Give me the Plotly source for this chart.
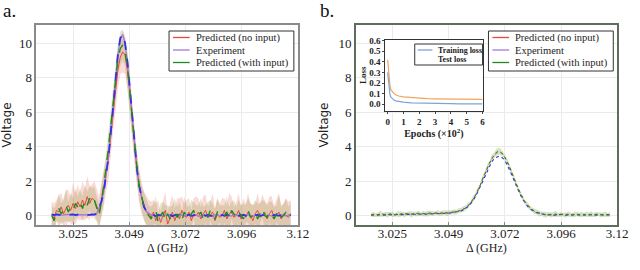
import numpy as np
import plotly.graph_objects as go

# ---------------- data ----------------
freq = np.round(np.linspace(3.016, 3.117, 102), 4)  # measurement grid (GHz)

tick_vals = [3.025, 3.04875, 3.0725, 3.09625, 3.12]
tick_text = ["3.025", "3.049", "3.072", "3.096", "3.12"]

# Panel a
a_exp = [0.05, 0.03, 0.06, 0.04, 0.05, 0.02, 0.06, 0.04, 0.05, 0.07,
         0.03, 0.05, 0.04, 0.06, 0.03, 0.05, 0.04, 0.06, 0.05, 0.10,
         0.4, 0.8, 1.4, 2.3, 3.4, 4.9, 6.5, 8.1, 9.4, 10.3,
         10.5, 10.0, 8.9, 7.4, 5.7, 4.0, 2.7, 1.7, 1.0, 0.5,
         0.25, 0.12,
         0.05, 0.02, -0.03, 0.04, 0.01, -0.02, 0.03, 0.0, 0.05, -0.04,
         0.02, 0.04, -0.01, 0.03, -0.03, 0.01, 0.05, -0.02, 0.0, 0.03,
         -0.04, 0.02, 0.04, -0.01, 0.03, 0.0, -0.03, 0.05, 0.01, -0.02,
         0.03, -0.01, 0.04, 0.0, -0.03, 0.02, 0.05, -0.02, 0.01, 0.03,
         -0.01, 0.04, 0.0, -0.04, 0.02, 0.03, -0.02, 0.01, 0.05, 0.0,
         0.02, -0.03, 0.04, 0.01, -0.01, 0.03, 0.0, -0.02, 0.04, 0.01]

a_red = [0.1, -0.2, 0.3, 0.2, 0.5, 0.1, 0.4, 0.6, 0.3, 0.7,
         0.4, 0.8, 0.5, 0.9, 0.6, 1.1, 0.7, 1.0, 0.9, 0.6,
         0.2, 0.9, 1.6, 2.4, 3.3, 4.6, 6.0, 7.3, 8.5, 9.2,
         9.5, 9.3, 8.4, 7.1, 5.6, 4.0, 2.7, 1.7, 1.0, 0.6,
         0.2, 0.1,
         -0.1, 0.2, -0.3, 0.1, -0.4, 0.0, 0.3, -0.5, -0.1, 0.2,
         -0.3, 0.1, -0.2, 0.3, 0.0, -0.1, 0.2, -0.3, 0.1, 0.0,
         0.2, -0.2, 0.1, 0.3, -0.1, 0.0, 0.2, -0.3, 0.1, -0.1,
         0.0, 0.3, -0.2, 0.1, 0.2, -0.1, 0.0, 0.3, -0.2, 0.1,
         -0.1, 0.2, 0.0, -0.3, 0.1, 0.3, -0.1, 0.0, 0.2, -0.2,
         0.1, 0.3, -0.1, 0.0, 0.2, -0.2, 0.1, 0.0, -0.1, 0.1]

a_green = [0.0, -0.3, 0.2, 0.4, 0.1, 0.3, 0.6, 0.2, 0.5, 0.3,
           0.7, 0.5, 0.8, 0.4, 0.9, 0.6, 1.0, 0.7, 0.9, 0.4,
           0.0, 0.8, 1.7, 2.8, 4.0, 5.3, 6.7, 8.0, 9.1, 9.7,
           9.9, 9.5, 8.6, 7.2, 5.6, 4.1, 2.8, 1.7, 1.0, 0.5,
           0.2, 0.0,
           -0.2, 0.1, 0.3, -0.4, 0.0, 0.2, -0.3, 0.1, -0.2, 0.0,
           0.2, -0.1, 0.1, -0.3, 0.2, 0.0, -0.2, 0.1, 0.3, -0.1,
           0.0, 0.2, -0.2, 0.1, -0.1, 0.3, 0.0, -0.2, 0.2, 0.1,
           -0.1, 0.0, 0.2, -0.2, 0.3, 0.1, -0.1, 0.2, 0.0, -0.2,
           0.1, 0.3, -0.1, 0.0, 0.2, -0.2, 0.1, 0.4, 0.0, -0.1,
           0.2, 0.0, -0.2, 0.1, 0.3, -0.1, 0.0, 0.2, -0.1, 0.1]

a_red_sd = [0.7, 0.9, 0.6, 1.0, 0.8, 0.7, 1.1, 0.9, 0.8, 1.2,
            0.9, 1.0, 0.8, 1.1, 0.9, 1.2, 1.0, 0.8, 1.1, 0.9,
            0.9, 1.0, 1.1, 1.0, 1.2, 1.1, 1.0, 1.2, 1.1, 1.0,
            1.2, 1.1, 1.0, 1.2, 1.1, 1.0, 0.9, 1.0, 0.9, 0.8,
            0.9, 0.8,
            0.9, 0.7, 1.0, 0.8, 0.6, 0.9, 1.1, 0.7, 0.8, 1.0,
            0.7, 0.9, 1.2, 0.8, 0.7, 1.0, 0.8, 0.6, 0.9, 1.1,
            0.8, 0.7, 1.0, 0.9, 0.6, 0.8, 1.1, 0.7, 0.9, 0.8,
            1.0, 0.7, 0.8, 1.2, 0.9, 0.6, 0.8, 1.0, 0.7, 0.9,
            0.8, 1.1, 0.7, 0.9, 0.6, 1.0, 0.8, 1.2, 0.7, 0.9,
            1.0, 0.8, 0.7, 0.9, 1.1, 0.8, 0.6, 1.0, 0.9, 0.8]

a_green_sd = [0.6, 0.7, 0.5, 0.8, 0.6, 0.7, 0.9, 0.6, 0.8, 0.7,
              0.9, 0.6, 0.8, 0.7, 0.9, 0.8, 0.7, 0.9, 0.8, 0.7,
              0.7, 0.8, 0.9, 0.8, 0.9, 1.0, 0.9, 0.8, 0.9, 1.0,
              0.9, 0.8, 0.9, 1.0, 0.9, 0.8, 0.9, 0.8, 0.7, 0.8,
              0.7, 0.6,
              0.7, 0.6, 0.8, 0.5, 0.7, 0.6, 0.9, 0.5, 0.7, 0.6,
              0.8, 0.6, 0.7, 0.5, 0.9, 0.6, 0.7, 0.8, 0.5, 0.7,
              0.6, 0.8, 0.7, 0.5, 0.9, 0.6, 0.7, 0.6, 0.8, 0.5,
              0.7, 0.6, 0.9, 0.7, 0.5, 0.8, 0.6, 0.7, 0.6, 0.9,
              0.5, 0.7, 0.8, 0.6, 0.7, 0.9, 0.6, 0.5, 0.8, 0.7,
              0.6, 0.8, 0.7, 0.5, 0.9, 0.6, 0.7, 0.8, 0.6, 0.7]

# Panel b
b_exp = [0.02, 0.04, 0.01, 0.03, 0.05, 0.02, 0.04, 0.03, 0.06, 0.03,
         0.05, 0.04, 0.07, 0.05, 0.06, 0.08, 0.05, 0.07, 0.09, 0.06,
         0.08, 0.07, 0.10, 0.08, 0.09, 0.11, 0.08, 0.10, 0.12, 0.10,
         0.13, 0.12, 0.15, 0.14, 0.17, 0.19,
         0.19, 0.22, 0.27, 0.33, 0.42, 0.52, 0.68, 0.86, 1.08, 1.35,
         1.64, 1.96, 2.28, 2.60, 2.88, 3.12, 3.30, 3.40, 3.45, 3.40,
         3.27, 3.06, 2.80, 2.50, 2.17, 1.83, 1.51, 1.22, 0.96, 0.74,
         0.56, 0.41, 0.30, 0.22, 0.16, 0.12, 0.09, 0.07,
         0.05, 0.03, 0.06, 0.02, 0.04, 0.05, 0.03, 0.06, 0.02, 0.04,
         0.05, 0.03, 0.04, 0.06, 0.02, 0.05, 0.03, 0.04, 0.06, 0.03,
         0.05, 0.02, 0.04, 0.05, 0.03, 0.04, 0.02, 0.05]

b_red = [0.05, 0.00, 0.08, 0.03, 0.06, 0.10, 0.02, 0.07, 0.04, 0.09,
         0.05, 0.11, 0.06, 0.03, 0.09, 0.12, 0.07, 0.10, 0.05, 0.13,
         0.09, 0.06, 0.12, 0.10, 0.14, 0.08, 0.11, 0.15, 0.09, 0.13,
         0.16, 0.12, 0.18, 0.15, 0.20, 0.17,
         0.22, 0.25, 0.30, 0.36, 0.45, 0.57, 0.72, 0.92, 1.15, 1.42,
         1.73, 2.07, 2.41, 2.74, 3.03, 3.29, 3.50, 3.62, 3.68, 3.63,
         3.48, 3.26, 2.98, 2.66, 2.31, 1.95, 1.60, 1.29, 1.02, 0.79,
         0.60, 0.45, 0.33, 0.25, 0.18, 0.13, 0.10, 0.07,
         0.06, 0.02, 0.08, 0.04, 0.01, 0.07, 0.05, 0.09, 0.03, 0.06,
         0.02, 0.08, 0.05, 0.03, 0.07, 0.04, 0.09, 0.02, 0.06, 0.05,
         0.03, 0.08, 0.04, 0.06, 0.02, 0.07, 0.05, 0.03]

b_green = [0.03, 0.07, 0.02, 0.06, 0.09, 0.04, 0.08, 0.05, 0.10, 0.06,
           0.03, 0.09, 0.07, 0.11, 0.05, 0.08, 0.12, 0.06, 0.10, 0.08,
           0.13, 0.07, 0.11, 0.09, 0.12, 0.15, 0.10, 0.13, 0.16, 0.11,
           0.14, 0.18, 0.13, 0.17, 0.19, 0.21,
           0.20, 0.27, 0.31, 0.38, 0.44, 0.59, 0.70, 0.94, 1.13, 1.45,
           1.71, 2.10, 2.39, 2.78, 3.01, 3.33, 3.49, 3.68, 3.74, 3.66,
           3.50, 3.24, 3.00, 2.63, 2.33, 1.93, 1.62, 1.27, 1.04, 0.77,
           0.62, 0.44, 0.35, 0.24, 0.19, 0.12, 0.11, 0.06,
           0.04, 0.08, 0.03, 0.06, 0.09, 0.02, 0.07, 0.05, 0.03, 0.08,
           0.06, 0.01, 0.07, 0.09, 0.04, 0.06, 0.02, 0.08, 0.05, 0.07,
           0.03, 0.06, 0.09, 0.04, 0.05, 0.08, 0.03, 0.06]

b_sd = [0.12, 0.15, 0.10, 0.14, 0.18, 0.11, 0.13, 0.16, 0.12, 0.15,
        0.10, 0.14, 0.17, 0.12, 0.15, 0.11, 0.13, 0.18, 0.12, 0.14,
        0.16, 0.11, 0.15, 0.13, 0.17, 0.12, 0.14, 0.10, 0.16, 0.13,
        0.15, 0.12, 0.18, 0.14, 0.11, 0.16, 0.13, 0.15, 0.12, 0.17,
        0.14, 0.16, 0.13, 0.18, 0.15, 0.17, 0.14, 0.19, 0.16, 0.18,
        0.15, 0.20, 0.17, 0.19, 0.21, 0.18, 0.16, 0.19, 0.15, 0.17,
        0.14, 0.18, 0.15, 0.13, 0.17, 0.12, 0.16, 0.14, 0.11, 0.15,
        0.13, 0.17, 0.12, 0.14, 0.16, 0.11, 0.15, 0.13, 0.18, 0.12,
        0.14, 0.10, 0.16, 0.13, 0.15, 0.11, 0.17, 0.12, 0.14, 0.16,
        0.11, 0.15, 0.13, 0.18, 0.12, 0.14, 0.10, 0.16, 0.13, 0.15,
        0.12, 0.14]

# Inset (loss curves)
epochs = [0, 0.05, 0.1, 0.15, 0.2, 0.3, 0.4, 0.5, 0.7, 1.0,
          1.5, 2.0, 2.5, 3.0, 3.5, 4.0, 4.5, 5.0, 5.5, 6.0]
train_loss = [0.30, 0.20, 0.13, 0.09, 0.07, 0.05, 0.04, 0.033, 0.025, 0.02,
              0.014, 0.011, 0.009, 0.008, 0.007, 0.006, 0.005, 0.005, 0.004, 0.004]
test_loss = [0.42, 0.30, 0.22, 0.17, 0.14, 0.115, 0.10, 0.09, 0.078, 0.07,
             0.062, 0.056, 0.053, 0.051, 0.05, 0.049, 0.048, 0.048, 0.047, 0.047]

legend_names = ["Predicted (no input)", "Experiment", "Predicted (with input)"]
inset_legend_names = ["Training loss", "Test loss"]
x_title = "Δ (GHz)"
y_title = "Voltage"

# ---------------- styles ----------------
SERIF = "Liberation Serif, Times New Roman, serif"
SANS = "DejaVu Sans, sans-serif"
C_RED = "#e8483c"
C_PURPLE = "#a57ad8"
C_BLUE = "#2f2ff0"
C_GREEN = "#1f8a1f"
C_TRAIN = "#7aa6d6"
C_TEST = "#f5a25a"
LEG_COLORS = [C_RED, C_PURPLE, C_GREEN]

W, H = 640, 270
ML, MR, MT, MB = 0, 0, 25, 45
PH = H - MT - MB


def px(x):
    return x / W


def py(y):
    return (H - MB - y) / PH


fig = go.Figure()


def band(xs, mid, sd, color, xa, ya):
    mid = np.array(mid, dtype=float)
    sd = np.array(sd, dtype=float)
    xx = np.concatenate([xs, xs[::-1]])
    yy = np.concatenate([mid + sd, (mid - sd)[::-1]])
    fig.add_trace(go.Scatter(x=xx, y=yy, fill="toself", fillcolor=color,
                             line=dict(width=0), mode="lines", hoverinfo="skip",
                             showlegend=False, xaxis=xa, yaxis=ya))


# Panel a
band(freq, a_red, a_red_sd, "rgba(238,110,100,0.26)", "x", "y")
band(freq, a_green, a_green_sd, "rgba(130,150,50,0.24)", "x", "y")
fig.add_trace(go.Scatter(x=freq, y=a_red, mode="lines", line=dict(color=C_RED, width=1),
                         showlegend=False, xaxis="x", yaxis="y"))
fig.add_trace(go.Scatter(x=freq, y=a_exp, mode="lines", line=dict(color=C_PURPLE, width=1.3),
                         showlegend=False, xaxis="x", yaxis="y"))
fig.add_trace(go.Scatter(x=freq, y=a_exp, mode="lines",
                         line=dict(color=C_BLUE, width=1.8, dash="dash"),
                         showlegend=False, xaxis="x", yaxis="y"))
fig.add_trace(go.Scatter(x=freq, y=a_green, mode="lines",
                         line=dict(color=C_GREEN, width=1.4, dash="dash"),
                         showlegend=False, xaxis="x", yaxis="y"))

# Panel b
band(freq, b_green, b_sd, "rgba(110,170,60,0.30)", "x2", "y2")
fig.add_trace(go.Scatter(x=freq, y=b_exp, mode="lines", line=dict(color=C_BLUE, width=1.1, dash="dot"),
                         showlegend=False, xaxis="x2", yaxis="y2"))
fig.add_trace(go.Scatter(x=freq, y=b_red, mode="lines", line=dict(color=C_RED, width=1, dash="dot"),
                         showlegend=False, xaxis="x2", yaxis="y2"))
fig.add_trace(go.Scatter(x=freq, y=b_green, mode="lines", line=dict(color=C_GREEN, width=1, dash="dot"),
                         showlegend=False, xaxis="x2", yaxis="y2"))

# Inset
fig.add_trace(go.Scatter(x=epochs, y=test_loss, mode="lines", line=dict(color=C_TEST, width=1.2),
                         showlegend=False, xaxis="x3", yaxis="y3"))
fig.add_trace(go.Scatter(x=epochs, y=train_loss, mode="lines", line=dict(color=C_TRAIN, width=1.2),
                         showlegend=False, xaxis="x3", yaxis="y3"))

tickfont = dict(family=SERIF, size=13, color="#222")
main_x = dict(range=[3.0095, 3.12], tickvals=tick_vals, ticktext=tick_text,
              tickfont=tickfont, showgrid=True, gridcolor="#ebebeb", gridwidth=1,
              ticks="inside", ticklen=3, tickcolor="#888", zeroline=False, showline=True, mirror=True,
              ticklabelstandoff=-4)
main_y = dict(range=[-0.55, 11.06], tickvals=[0, 2, 4, 6, 8, 10], tickfont=tickfont,
              showgrid=True, gridcolor="#ebebeb", gridwidth=1, ticks="", zeroline=False,
              showline=True, mirror=True,
              title=dict(text=y_title, font=dict(family=SANS, size=12, color="#222"), standoff=7))

inset_font = dict(family=SERIF, size=9, color="#222", weight="bold")

fig.update_layout(
    width=W, height=H, margin=dict(l=ML, r=MR, t=MT, b=MB),
    paper_bgcolor="white", plot_bgcolor="white", showlegend=False,
    xaxis=dict(main_x, domain=[px(37), px(303)], anchor="y", linecolor="#8a8a8a", linewidth=1.5),
    yaxis=dict(main_y, domain=[0, 1], anchor="x", linecolor="#8a8a8a", linewidth=1.5),
    xaxis2=dict(main_x, domain=[px(362), px(628)], anchor="y2", linecolor="#5d6e5d", linewidth=1.5),
    yaxis2=dict(main_y, domain=[0, 1], anchor="x2", linecolor="#5d6e5d", linewidth=1.5),
    xaxis3=dict(domain=[px(392), px(491)], anchor="y3", range=[-0.15, 6.0],
                tickvals=[0, 1, 2, 3, 4, 5, 6], showgrid=False, zeroline=False,
                showline=True, mirror=True, linecolor="#333", linewidth=1, ticks="outside", ticklen=2,
                tickfont=inset_font,
                title=dict(text="Epochs (×10<sup>2</sup>)", font=dict(inset_font, size=10), standoff=1)),
    yaxis3=dict(domain=[py(111), py(39.5)], anchor="x3", range=[-0.063, 0.61],
                tickvals=[0, 0.1, 0.2, 0.3, 0.4, 0.5, 0.6], tickformat=".1f", showgrid=False,
                zeroline=False, showline=True, mirror=True, linecolor="#333", linewidth=1,
                ticks="outside", ticklen=2, tickfont=inset_font,
                title=dict(text="Loss", font=inset_font, standoff=1)),
)

shapes = []
annotations = []


def add_legend(x0, y0, x1, y1, names, colors, row_y, line_x0, line_x1, text_x, fsize, bold=False):
    shapes.append(dict(type="rect", xref="paper", yref="paper", x0=px(x0), x1=px(x1),
                       y0=py(y1), y1=py(y0), line=dict(color="#333", width=1),
                       fillcolor="white", layer="above"))
    for name, col, ry in zip(names, colors, row_y):
        if col is not None:
            shapes.append(dict(type="line", xref="paper", yref="paper", x0=px(line_x0), x1=px(line_x1),
                               y0=py(ry), y1=py(ry), line=dict(color=col, width=1.3), layer="above"))
        f = dict(family=SERIF, size=fsize, color="#222")
        if bold:
            f["weight"] = "bold"
        annotations.append(dict(xref="paper", yref="paper", x=px(text_x), y=py(ry), text=name,
                                showarrow=False, xanchor="left", yanchor="middle", font=f))


row_y = [37.5, 50, 62.5]
add_legend(172, 31, 299, 71, legend_names, LEG_COLORS, row_y, 176, 193, 197, 10.5)
add_legend(497, 31, 624, 71, legend_names, LEG_COLORS, row_y, 501, 518, 522, 10.5)
add_legend(422, 44, 491, 65, inset_legend_names, [C_TRAIN, None], [50, 59.5], 425, 440, 444, 8, bold=True)

# x-axis titles
for cx in (170, 495):
    annotations.append(dict(xref="paper", yref="paper", x=px(cx), y=py(248), text=x_title,
                            showarrow=False, xanchor="center", yanchor="middle",
                            font=dict(family=SERIF, size=12, color="#222")))

annotations.append(dict(xref="paper", yref="paper", x=px(1), y=py(11), text="a.", showarrow=False,
                        xanchor="left", yanchor="middle", font=dict(family=SERIF, size=19, color="#111")))
annotations.append(dict(xref="paper", yref="paper", x=px(324), y=py(11), text="b.", showarrow=False,
                        xanchor="left", yanchor="middle", font=dict(family=SERIF, size=19, color="#111")))

fig.update_layout(shapes=shapes, annotations=annotations)
fig.write_html("out.html", config={"displayModeBar": False},
               post_script="document.body.style.margin='0px';document.body.style.padding='0px';"
                           "document.body.style.overflow='hidden';")
